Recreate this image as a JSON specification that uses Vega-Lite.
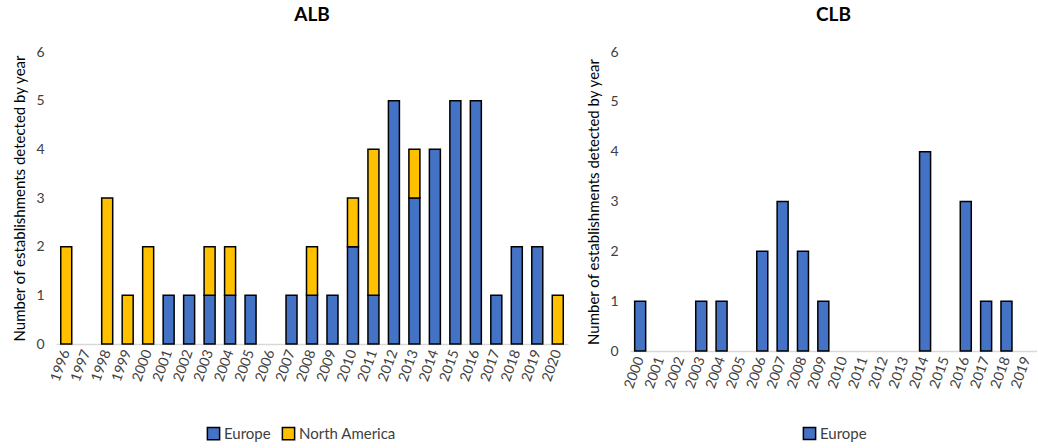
{
  "$schema": "https://vega.github.io/schema/vega-lite/v6.json",
  "background": "white",
  "padding": {"left": 12, "top": 6, "right": 0, "bottom": 0},
  "config": {
    "font": "Lato",
    "view": {"stroke": null},
    "axis": {"grid": false, "labelFont": "Lato", "titleFont": "Lato", "labelColor": "#404040", "titleColor": "#000000", "labelFontSize": 14, "titleFontSize": 15, "titleFontWeight": "normal"},
    "title": {"font": "Lato", "fontSize": 19, "fontWeight": "bold", "color": "#000000"},
    "legend": {"labelFont": "Lato", "labelFontSize": 15, "labelColor": "#404040"},
    "concat": {"spacing": 18}
  },
  "datasets": {
    "alb": [
      {"year": "1996", "region": "North America", "count": 2},
      {"year": "1998", "region": "North America", "count": 3},
      {"year": "1999", "region": "North America", "count": 1},
      {"year": "2000", "region": "North America", "count": 2},
      {"year": "2001", "region": "Europe", "count": 1},
      {"year": "2002", "region": "Europe", "count": 1},
      {"year": "2003", "region": "Europe", "count": 1},
      {"year": "2003", "region": "North America", "count": 1},
      {"year": "2004", "region": "Europe", "count": 1},
      {"year": "2004", "region": "North America", "count": 1},
      {"year": "2005", "region": "Europe", "count": 1},
      {"year": "2007", "region": "Europe", "count": 1},
      {"year": "2008", "region": "Europe", "count": 1},
      {"year": "2008", "region": "North America", "count": 1},
      {"year": "2009", "region": "Europe", "count": 1},
      {"year": "2010", "region": "Europe", "count": 2},
      {"year": "2010", "region": "North America", "count": 1},
      {"year": "2011", "region": "Europe", "count": 1},
      {"year": "2011", "region": "North America", "count": 3},
      {"year": "2012", "region": "Europe", "count": 5},
      {"year": "2013", "region": "Europe", "count": 3},
      {"year": "2013", "region": "North America", "count": 1},
      {"year": "2014", "region": "Europe", "count": 4},
      {"year": "2015", "region": "Europe", "count": 5},
      {"year": "2016", "region": "Europe", "count": 5},
      {"year": "2017", "region": "Europe", "count": 1},
      {"year": "2018", "region": "Europe", "count": 2},
      {"year": "2019", "region": "Europe", "count": 2},
      {"year": "2020", "region": "North America", "count": 1}
    ],
    "clb": [
      {"year": "2000", "region": "Europe", "count": 1},
      {"year": "2003", "region": "Europe", "count": 1},
      {"year": "2004", "region": "Europe", "count": 1},
      {"year": "2006", "region": "Europe", "count": 2},
      {"year": "2007", "region": "Europe", "count": 3},
      {"year": "2008", "region": "Europe", "count": 2},
      {"year": "2009", "region": "Europe", "count": 1},
      {"year": "2014", "region": "Europe", "count": 4},
      {"year": "2016", "region": "Europe", "count": 3},
      {"year": "2017", "region": "Europe", "count": 1},
      {"year": "2018", "region": "Europe", "count": 1}
    ]
  },
  "resolve": {"scale": {"color": "independent", "y": "independent", "x": "independent"}, "legend": {"color": "independent"}},
  "hconcat": [
    {
      "data": {"name": "alb"},
      "width": 512,
      "height": 292,
      "title": {"text": "ALB", "offset": 20},
      "mark": {"type": "bar", "stroke": "#000000", "strokeWidth": 1.5, "width": 11},
      "encoding": {
        "x": {
          "field": "year", "type": "ordinal",
          "scale": {"domain": ["1996","1997","1998","1999","2000","2001","2002","2003","2004","2005","2006","2007","2008","2009","2010","2011","2012","2013","2014","2015","2016","2017","2018","2019","2020"]},
          "axis": {"title": null, "labelAngle": -70, "ticks": false, "domainColor": "#d9d9d9", "domainWidth": 1.5, "labelPadding": 6}
        },
        "y": {
          "field": "count", "type": "quantitative", "aggregate": "sum", "stack": "zero",
          "scale": {"domain": [0, 6]},
          "axis": {"title": "Number of establishments  detected by year", "values": [0,1,2,3,4,5,6], "labelOverlap": false, "domain": false, "ticks": false, "labelPadding": 12, "titlePadding": 8}
        },
        "color": {
          "field": "region", "type": "nominal",
          "scale": {"domain": ["Europe", "North America"], "range": ["#4472C4", "#FFC000"]},
          "legend": {"title": null, "orient": "none", "legendX": 150, "legendY": 374, "direction": "horizontal", "symbolType": "square", "symbolSize": 150, "symbolStrokeColor": "#000000", "symbolStrokeWidth": 1.5, "labelOffset": 3, "columnPadding": 8}
        },
        "order": {"field": "region", "sort": "ascending"}
      }
    },
    {
      "data": {"name": "clb"},
      "width": 407,
      "height": 299,
      "title": {"text": "CLB", "offset": 20},
      "mark": {"type": "bar", "stroke": "#000000", "strokeWidth": 1.5, "width": 11},
      "encoding": {
        "x": {
          "field": "year", "type": "ordinal",
          "scale": {"domain": ["2000","2001","2002","2003","2004","2005","2006","2007","2008","2009","2010","2011","2012","2013","2014","2015","2016","2017","2018","2019"]},
          "axis": {"title": null, "labelAngle": -70, "ticks": false, "domainColor": "#d9d9d9", "domainWidth": 1.5, "labelPadding": 6}
        },
        "y": {
          "field": "count", "type": "quantitative", "aggregate": "sum",
          "scale": {"domain": [0, 6]},
          "axis": {"title": "Number of establishments detected by year", "values": [0,1,2,3,4,5,6], "labelOverlap": false, "domain": false, "ticks": false, "labelPadding": 12, "titlePadding": 8}
        },
        "color": {
          "field": "region", "type": "nominal",
          "scale": {"domain": ["Europe"], "range": ["#4472C4"]},
          "legend": {"title": null, "orient": "none", "legendX": 172, "legendY": 374, "direction": "horizontal", "symbolType": "square", "symbolSize": 150, "symbolStrokeColor": "#000000", "symbolStrokeWidth": 1.5, "labelOffset": 3}
        }
      }
    }
  ]
}
